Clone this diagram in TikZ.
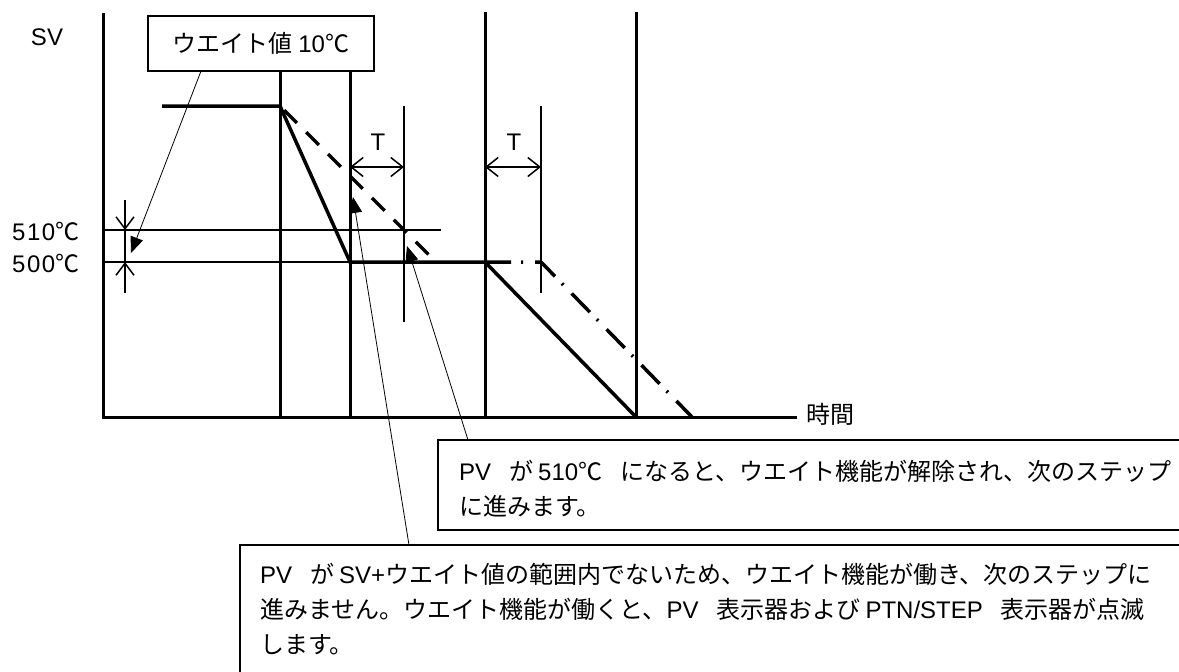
\documentclass[tikz,border=0pt]{standalone}
\usepackage{fontspec}
\setmainfont{Noto Sans CJK JP}
\newfontfamily\lat{Liberation Sans}
\usetikzlibrary{arrows.meta,calc}
\newcommand\wsp{\hspace{18pt}}
\newcommand\asp{\hspace{5pt}}
\begin{document}
\begin{tikzpicture}[x=1pt,y=-1pt,
  every node/.style={font=\fontsize{24pt}{35pt}\selectfont, inner sep=0pt},
  axisline/.style={line width=3pt},
  gridline/.style={line width=2pt},
  svline/.style={line width=3.5pt},
  pvline/.style={line width=3.5pt, dash pattern=on 18pt off 13pt, dash phase=-6pt},
  nextline/.style={line width=3.5pt, dash pattern=on 26pt off 10pt on 2pt off 12pt},
  callout/.style={line width=0.8pt, -{Triangle[length=16pt,width=13pt]}},
  tspan/.style={line width=1.5pt, {Straight Barb[length=12pt,width=19pt]}-{Straight Barb[length=12pt,width=19pt]}},
  tick/.style={line width=1.5pt},
  tickarrow/.style={line width=1.5pt, -{Straight Barb[length=12pt,width=18pt]}},
  boxframe/.style={line width=1.3pt},
]
\useasboundingbox (0,0) rectangle (1179,672);

% labels
\node (sv) at (47,37) {\lat SV};
\node[anchor=west] (t510) at (12,231) {{\lat 5\kern1.5pt1\kern1.5pt0}℃};
\node[anchor=west] (t500) at (12,263) {{\lat 5\kern1.5pt0\kern1.5pt0}℃};
\node[draw, line width=1.3pt, minimum width=226pt, minimum height=55pt] (wait) at (261,43.5) {ウエイト値 {\lat 10}℃};
\node (T1) at (378,142) {\lat T};
\node (T2) at (514,142) {\lat T};
\node[anchor=west] (time) at (806,414) {時間};

% axes
\coordinate (O) at (103,417);
\coordinate (ytop) at (103,13);
\coordinate (xend) at (797,417);
\draw[axisline] (ytop) -- (O) -- (xend);

% vertical lines
\draw[axisline] (280,71) -- (280,417);
\draw[axisline] (350,71) -- (350,417);
\draw[axisline] (485,12) -- (485,417);
\draw[axisline] (636,12) -- (636,417);
\draw[gridline] (404,106) -- (404,322);
\draw[gridline] (541,106) -- (541,293);

% horizontal reference lines
\draw[gridline] (103,230) -- (441,230);
\draw[gridline] (103,262) -- (350,262);

% SV, PV and shifted profile
\draw[svline] (162,106) -- (280,106) -- (350,262) -- (485,262) -- (636,417);
\draw[pvline] (280,106) -- (436,262);
\draw[nextline] (485,262) -- (541,262) -- (692,417);

% T spans
\draw[tspan] (350,167) -- (404,167);
\draw[tspan] (485,167) -- (541,167);

% wait band arrows
\draw[tickarrow] (125,200) -- (125,230);
\draw[tick] (125,230) -- (125,262);
\draw[tickarrow] (125,293) -- (125,262);

% note boxes
\coordinate (ub) at (438,440);
\coordinate (lb) at (240,545);
\draw[boxframe] (1179,440) -- (ub) -- (438,530) -- (1179,530);
\draw[boxframe] (1179,545) -- (lb) -- (240,672);
\node[anchor=base west] (n1a) at (459,480) {{\lat PV}\wsp が\asp{\lat 510}℃\wsp になると、ウエイト機能が解除され、次のステップ};
\node[anchor=base west] (n1b) at (459,515) {に進みます。};
\node[anchor=base west] (n2a) at (260,583) {{\lat PV}\wsp が\asp{\lat SV+}ウエイト値の範囲内でないため、ウエイト機能が働き、次のステップに};
\node[anchor=base west] (n2b) at (260,618) {進みません。ウエイト機能が働くと、{\lat PV}\wsp 表示器および\asp{\lat PTN/STEP}\wsp 表示器が点滅};
\node[anchor=base west] (n2c) at (260,653) {します。};

% callouts
\coordinate (c1s) at ($(wait.south west)!0.235!(wait.south east)$);
\coordinate (c1e) at (131,253);
\draw[callout] (c1s) -- (c1e);
\coordinate (c2s) at ($(lb)+(169,0)$);
\coordinate (c2e) at (353,197);
\draw[callout] (c2s) -- (c2e);
\coordinate (c3s) at ($(ub)+(30,0)$);
\coordinate (c3e) at (407,246);
\draw[callout] (c3s) -- (c3e);
\end{tikzpicture}
\end{document}
